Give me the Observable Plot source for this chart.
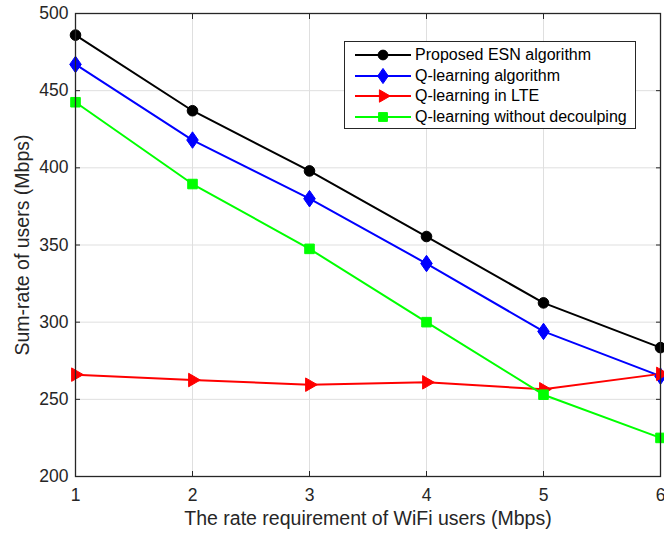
<!DOCTYPE html>
<html>
<head>
<meta charset="utf-8">
<script src="https://cdn.jsdelivr.net/npm/d3@7"></script>
<script src="https://cdn.jsdelivr.net/npm/@observablehq/plot@0.6"></script>
<style>
  body { margin: 0; background: #fff; font-family: "Liberation Sans", Arial, sans-serif; }
  #wrap { position: relative; width: 664px; height: 533px; }
  .legend { position: absolute; left: 344px; top: 41px; width: 292px; height: 88px;
            border: 1px solid #262626; background: #fff; box-sizing: border-box; padding-top: 3px; }
  .legend .row { display: flex; align-items: center; height: 20.5px; font-size: 16px; color: #000; }
  .legend svg { margin-left: 10px; margin-right: 4px; flex: none; }
</style>
</head>
<body>
<div id="wrap"></div>
<script>
// WiFi user rate requirement (Mbps) on the x axis
const rates = [1, 2, 3, 4, 5, 6];

// Sum-rate of users (Mbps) for each scheme
const esn = [486, 437, 398, 355.5, 312.5, 283.5];
const qLearning = [467, 418, 380, 338, 294, 265];
const qLte = [266, 262.5, 259.5, 261, 256.5, 266.5];
const qNoDecoupling = [442.5, 389.5, 347.5, 300, 253, 225];

const seriesNames = [
  "Proposed ESN algorithm",
  "Q-learning algorithm",
  "Q-learning in LTE",
  "Q-learning without decoulping"
];
const seriesValues = [esn, qLearning, qLte, qNoDecoupling];
const colors = ["#000000", "#0000ff", "#ff0000", "#00ff00"];

// A rhombus a bit wider than d3's default diamond
const wideDiamond = {
  draw(context, size) {
    const hh = Math.sqrt(size / 1.4), hw = 0.7 * hh;
    context.moveTo(0, -hh);
    context.lineTo(hw, 0);
    context.lineTo(0, hh);
    context.lineTo(-hw, 0);
    context.closePath();
  }
};
const symbols = [d3.symbolCircle, wideDiamond, d3.symbolTriangle, d3.symbolSquare];
const rotations = [0, 0, 90, 0];
const radii = [5.3, 5.5, 5.0, 5.4];

const yTicks = [200, 250, 300, 350, 400, 450, 500];
const xLabel = "The rate requirement of WiFi users (Mbps)";
const yLabel = "Sum-rate of users (Mbps)";

const rows = seriesNames.flatMap((name, i) =>
  rates.map((r, j) => ({ series: name, idx: i, rate: r, value: seriesValues[i][j] })));

const axisColor = "#262626";
const gridColor = "#dfdfdf";

const lineMarks = seriesNames.map((name, i) =>
  Plot.line(rows.filter(d => d.idx === i), {
    x: "rate", y: "value", stroke: colors[i], strokeWidth: 2
  }));
const dotMarks = seriesNames.map((name, i) =>
  Plot.dot(rows.filter(d => d.idx === i), {
    x: "rate", y: "value", symbol: symbols[i], r: radii[i],
    fill: colors[i], stroke: colors[i], strokeWidth: 1, rotate: rotations[i]
  }));

const chart = Plot.plot({
  width: 664,
  height: 533,
  marginLeft: 75,
  marginRight: 4,
  marginTop: 13,
  marginBottom: 57,
  style: { fontFamily: "'Liberation Sans', Arial, sans-serif", background: "#fff", overflow: "hidden" },
  x: { domain: [1, 6], ticks: rates },
  y: { domain: [200, 500], ticks: yTicks },
  marks: [
    Plot.gridX(rates, { stroke: gridColor, strokeOpacity: 1 }),
    Plot.gridY(yTicks, { stroke: gridColor, strokeOpacity: 1 }),
    Plot.axisX(rates, { anchor: "bottom", tickSize: -5, tickPadding: 17, fontSize: 17.5, tickFormat: d3.format("d"), color: axisColor, stroke: axisColor, label: null }),
    Plot.axisX(rates, { anchor: "top", tickSize: -5, tickFormat: () => "", stroke: axisColor, label: null }),
    Plot.axisY(yTicks, { anchor: "left", tickSize: -5, tickPadding: 12, fontSize: 17.5, tickFormat: d3.format("d"), color: axisColor, stroke: axisColor, label: null }),
    Plot.axisY(yTicks, { anchor: "right", tickSize: -5, tickFormat: () => "", stroke: axisColor, label: null }),
    ...lineMarks,
    ...dotMarks,
    Plot.frame({ stroke: axisColor, strokeWidth: 1.3 }),
    Plot.text([xLabel], { frameAnchor: "bottom", textAnchor: "middle", dy: 48, fontSize: 19.5, fill: axisColor }),
    Plot.text([yLabel], { frameAnchor: "left", textAnchor: "middle", dx: -53, rotate: -90, fontSize: 19.5, fill: axisColor })
  ]
});

const wrap = document.getElementById("wrap");
wrap.appendChild(chart);

// Legend box drawn over the upper-right part of the plot
const legend = document.createElement("div");
legend.className = "legend";
seriesNames.forEach((name, i) => {
  const row = document.createElement("div");
  row.className = "row";
  const sw = d3.create("svg").attr("width", 56).attr("height", 20);
  sw.append("line").attr("x1", 0).attr("x2", 56).attr("y1", 10).attr("y2", 10)
    .attr("stroke", colors[i]).attr("stroke-width", 2);
  const sym = d3.symbol(symbols[i], Math.PI * radii[i] * radii[i] * 0.85);
  sw.append("path").attr("d", sym())
    .attr("transform", `translate(28,10) rotate(${rotations[i]})`)
    .attr("fill", colors[i]).attr("stroke", colors[i]);
  row.appendChild(sw.node());
  const label = document.createElement("span");
  label.textContent = name;
  row.appendChild(label);
  legend.appendChild(row);
});
wrap.appendChild(legend);
</script>
</body>
</html>
